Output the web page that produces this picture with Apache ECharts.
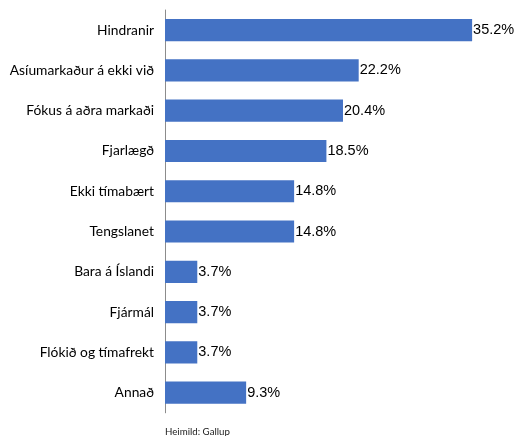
<!DOCTYPE html>
<html><head><meta charset="utf-8">
<script src="https://cdn.jsdelivr.net/npm/echarts@6/dist/echarts.min.js"></script>
<style>html,body{margin:0;padding:0;background:#fff}#c{width:516px;height:436px}</style>
</head><body><div id="c"></div>
<script>
const categories = ["Hindranir","Asíumarkaður á ekki við","Fókus á aðra markaði","Fjarlægð","Ekki tímabært","Tengslanet","Bara á Íslandi","Fjármál","Flókið og tímafrekt","Annað"];
const values = [35.2,22.2,20.4,18.5,14.8,14.8,3.7,3.7,3.7,9.3];
const source = "Heimild: Gallup";

const chart = echarts.init(document.getElementById('c'), null, {renderer:'canvas'});
chart.setOption({
  animation:false,
  grid:{left:165, right:2, top:10, bottom:23.2, containLabel:false},
  xAxis:{type:'value', min:0, max:40, show:false},
  yAxis:{type:'category', data:categories, inverse:true,
    axisLine:{show:true, lineStyle:{color:'#8c8c8c', width:1}},
    axisTick:{show:false},
    axisLabel:{color:'#000', fontFamily:'Lato', fontSize:13.8, margin:11}
  },
  series:[{type:'bar', data:values, barWidth:'55%',
    itemStyle:{color:'#4472C4'},
    label:{show:true, position:'right', distance:1, formatter:p=>p.value.toFixed(1)+'%',
      color:'#000', fontFamily:'Liberation Sans', fontSize:14.5}
  }],
  graphic:[{type:'text', left:165, top:427, style:{text:source, fontFamily:'Lato', fontSize:9.7, fill:'#222'}}]
});
</script></body></html>
